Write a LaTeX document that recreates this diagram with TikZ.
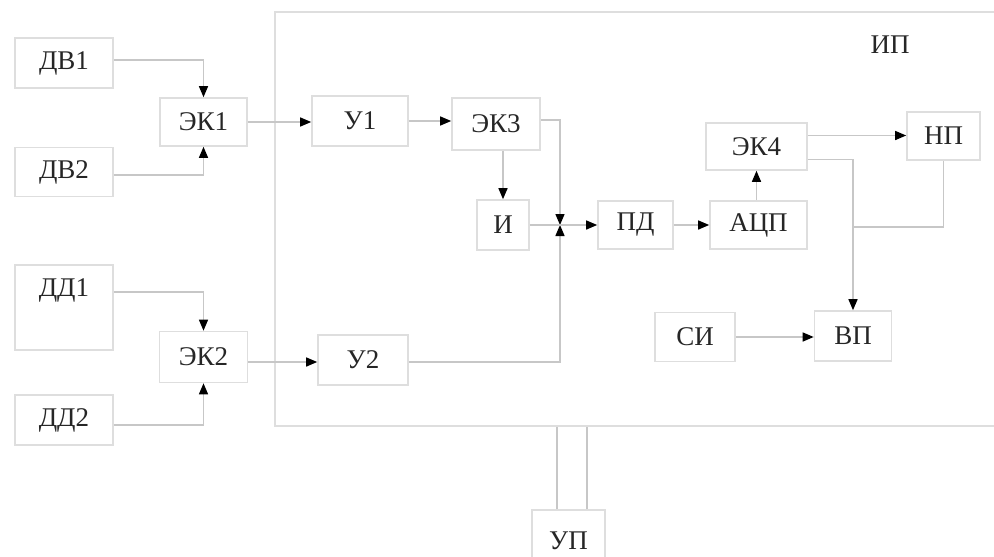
\documentclass[tikz,border=0pt]{standalone}
\usepackage{fontspec}
\setmainfont{Liberation Serif}
\usetikzlibrary{arrows.meta}
\begin{document}
\begin{tikzpicture}[x=1pt,y=-1pt,
  box/.style={draw=black!13, line width=1.6pt, rectangle, inner sep=0pt, font=\fontsize{27}{29}\selectfont, text=black!85},
  conn/.style={draw=black!22, line width=1.4pt},
  arr/.style={conn, -{Triangle[length=11pt,width=9pt,color=black]}},
  lbl/.style={font=\fontsize{27}{29}\selectfont, text=black!85}]
\useasboundingbox (0,0) rectangle (994,557);
\fill[white] (0,0) rectangle (994,557);
% big frame
\node[box, minimum width=724pt, minimum height=414pt] (ip) at (637,219) {};
\node[lbl] (iplbl) at (890,45) {ИП};
% left column
\node[box, minimum width=98pt, minimum height=50pt] (dv1) at (64,63) {ДВ1};
\node[box, minimum width=98pt, minimum height=49pt] (dv2) at (64,172) {ДВ2};
\node[box, minimum width=98pt, minimum height=85pt, label={[lbl, anchor=north, yshift=-11pt, name=dd1lbl]north:ДД1}] (dd1) at (64,307.5) {};
\node[box, minimum width=98pt, minimum height=50pt] (dd2) at (64,420) {ДД2};
\node[box, minimum width=87pt, minimum height=48pt] (ek1) at (203.5,122) {ЭК1};
\node[box, minimum width=88pt, minimum height=51pt] (ek2) at (203.5,357) {ЭК2};
% inside frame
\node[box, minimum width=96pt, minimum height=50pt] (u1) at (360,121) {У1};
\node[box, minimum width=90pt, minimum height=50pt] (u2) at (363,360) {У2};
\node[box, minimum width=88pt, minimum height=52pt] (ek3) at (496,124) {ЭК3};
\node[box, minimum width=52pt, minimum height=50pt] (i) at (503,225) {И};
\node[box, minimum width=75pt, minimum height=48pt] (pd) at (635.5,225) {ПД};
\node[box, minimum width=97pt, minimum height=48pt] (adc) at (758.5,225) {АЦП};
\node[box, minimum width=101pt, minimum height=47pt] (ek4) at (756.5,146.5) {ЭК4};
\node[box, minimum width=73pt, minimum height=48pt] (np) at (943.5,136) {НП};
\node[box, minimum width=77pt, minimum height=50pt] (vp) at (853,336) {ВП};
\node[box, minimum width=80pt, minimum height=49pt] (si) at (695,337) {СИ};
\node[box, minimum width=73pt, minimum height=62pt] (up) at (568.5,541) {УП};
\coordinate (j) at (560,225);
\coordinate (k) at (853,227);
% connectors
\draw[arr] ([yshift=3pt]dv1.east) -| (ek1.north);
\draw[arr] ([yshift=-3pt]dv2.east) -| (ek1.south);
\draw[arr] ([yshift=15.5pt]dd1.east) -| (ek2.north);
\draw[arr] ([yshift=-5pt]dd2.east) -| (ek2.south);
\draw[arr] (ek1.east) -- (ek1.east -| u1.west);
\draw[arr] ([yshift=-5pt]ek2.east) -- ([yshift=-5pt]ek2.east -| u2.west);
\draw[arr] (u1.east) -- (u1.east -| ek3.west);
\draw[arr] (ek3.south -| i.north) -- (i.north);
\draw[arr] ([yshift=4pt]ek3.east) -| (j);
\draw[arr] ([yshift=-2pt]u2.east) -| (j);
\draw[conn] (i.east) -- (j);
\draw[arr] (j) -- (pd.west);
\draw[arr] (pd.east) -- (adc.west);
\draw[arr] (adc.north -| ek4.south) -- (ek4.south);
\draw[arr] ([yshift=11pt]ek4.east) -- ([yshift=11pt]ek4.east -| np.west);
\draw[arr] ([yshift=-13pt]ek4.east) -| (vp.north);
\draw[conn] (np.south) |- (k);
\draw[arr] (si.east) -- (si.east -| vp.west);
\draw[conn] ([xshift=-11.5pt]up.north) -- ([xshift=-11.5pt]up.north |- ip.south);
\draw[conn] ([xshift=18.5pt]up.north) -- ([xshift=18.5pt]up.north |- ip.south);
\end{tikzpicture}
\end{document}
